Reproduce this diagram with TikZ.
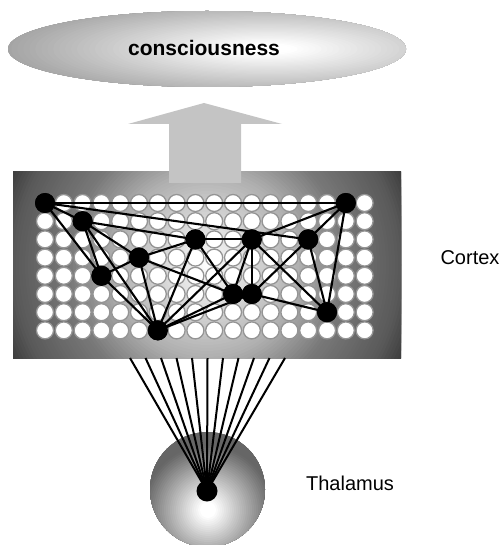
\documentclass[tikz,border=0pt]{standalone}
\usepackage{fontspec}
\setmainfont{Liberation Sans}
\definecolor{arrowgray}{gray}{0.77}
\tikzset{
  blk/.style={circle, fill=black, minimum size=20pt, inner sep=0pt},
  cell/.style={fill=white, draw=black!42, line width=1.3pt},
  edge/.style={black, line width=2.1pt},
  fan/.style={black, line width=2pt},
  lbl/.style={font=\fontsize{20}{24}\selectfont, inner sep=0pt}
}
\begin{document}
\begin{tikzpicture}[x=1pt,y=-1pt]
\useasboundingbox (0,0) rectangle (503,545);
% consciousness ellipse (elliptic gradient, light toward the right)
\begin{scope}
  \clip (207,49) ellipse [x radius=199pt, y radius=38pt];
  \foreach \k in {50,49,...,1}{
    \pgfmathsetmacro\uu{\k*0.03}
    \pgfmathsetmacro\bb{max(0.58,min(1,1.04-0.3*\uu))}
    \definecolor{tmpc}{gray}{\bb}
    \fill[tmpc] (268,49) ellipse [x radius={199*\uu pt}, y radius={38*\uu pt}];
  }
\end{scope}
\node[lbl, font=\fontsize{21}{25}\selectfont\bfseries] (cons) at (204,48) {consciousness};
% cortex rectangle with circular gradient
\begin{scope}
  \clip (13,172) rectangle (401,358);
  \foreach \d in {218,215,...,2}{
    \pgfmathsetmacro\bb{ifthenelse(\d<93, 1-0.31*\d/93, ifthenelse(\d<140, 0.69-0.22*(\d-93)/47, ifthenelse(\d<194, 0.47-0.12*(\d-140)/54, max(0.25,0.35-0.10*(\d-194)/21))))}
    \definecolor{tmpc}{gray}{\bb}
    \fill[tmpc] (207,265) circle[radius=\d pt];
  }
\end{scope}
% arrow
\fill[arrowgray] (204,103) -- (282,124) -- (241,124) -- (241,183) -- (169,183) -- (169,124) -- (128,124) -- cycle;
% grid of cells
\foreach \c in {0,...,17}{
  \foreach \r in {0,...,7}{
    \filldraw[cell] ({45+18.8*\c},{203+18.2*\r}) circle[radius=8.5pt];
  }
}
% neurons
\node[blk] (A) at ({45+18.8*0},{203+18.2*0}) {};
\node[blk] (B) at ({45+18.8*2},{203+18.2*1}) {};
\node[blk] (C) at ({45+18.8*3},{203+18.2*4}) {};
\node[blk] (D) at ({45+18.8*5},{203+18.2*3}) {};
\node[blk] (E) at ({45+18.8*6},{203+18.2*7}) {};
\node[blk] (F) at ({45+18.8*8},{203+18.2*2}) {};
\node[blk] (G) at ({45+18.8*11},{203+18.2*2}) {};
\node[blk] (H) at ({45+18.8*10},{203+18.2*5}) {};
\node[blk] (I) at ({45+18.8*11},{203+18.2*5}) {};
\node[blk] (J) at ({45+18.8*14},{203+18.2*2}) {};
\node[blk] (K) at ({45+18.8*16},{203+18.2*0}) {};
\node[blk] (L) at ({45+18.8*15},{203+18.2*6}) {};
\foreach \a/\b in {A/K,A/J,A/B,A/C,B/F,F/G,B/D,B/C,B/E,C/D,C/E,D/F,D/E,D/H,E/F,E/G,E/H,E/I,F/H,G/K,G/H,G/I,G/L,I/J,I/L,J/K,J/L,K/L}{
  \draw[edge] (\a.center) -- (\b.center);
}
\foreach \n in {A,B,C,D,E,F,G,H,I,J,K,L}{
  \fill[black] (\n) circle[radius=10pt];
}
% thalamus sphere
\begin{scope}
  \clip (207.5,489.5) circle[radius=57.5pt];
  \foreach \d in {82,80,...,2}{
    \pgfmathsetmacro\bb{ifthenelse(\d<8, 1, max(0.4, 1-(\d-8)*0.0105))}
    \definecolor{tmpc}{gray}{\bb}
    \fill[tmpc] (208,510) circle[radius=\d pt];
  }
\end{scope}
\node[blk, minimum size=21pt] (th) at (207,491) {};
\foreach \i in {0,...,10}{
  \coordinate (f\i) at ({130+15.5*\i},358);
  \draw[fan] (th.center) -- (f\i);
}
% labels
\node[lbl] (cortex) at (470,258) {Cortex};
\node[lbl] (thal) at (350,483) {Thalamus};
\end{tikzpicture}
\end{document}
